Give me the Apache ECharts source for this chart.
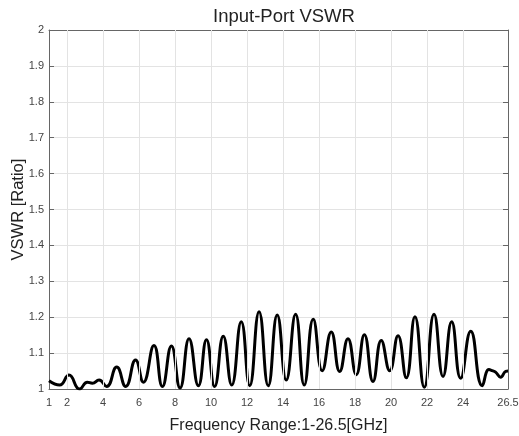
<!DOCTYPE html>
<html><head><meta charset="utf-8">
<script src="https://cdn.jsdelivr.net/npm/echarts@6/dist/echarts.min.js"></script>
<style>html,body{margin:0;padding:0;background:#fff}#c{width:519px;height:436px}</style>
</head><body><div id="c"></div>
<script>
const freqGHz = [1.0,1.59,2.11,2.70,3.13,3.41,3.78,4.2,4.76,5.26,5.81,6.24,6.83,7.30,7.80,8.28,8.78,9.30,9.75,10.2,10.68,11.15,11.68,12.15,12.67,13.18,13.68,14.18,14.70,15.18,15.68,16.18,16.68,17.15,17.61,18.07,18.52,19.0,19.46,19.93,20.39,20.85,21.33,21.85,22.39,22.89,23.37,23.87,24.43,25.07,25.44,25.63,25.81,26.09,26.37,26.5];
const vswr = [1.023,1.011,1.039,1.0,1.019,1.016,1.025,1.007,1.061,1.007,1.081,1.019,1.121,1.007,1.12,1.003,1.14,1.009,1.137,1.007,1.147,1.011,1.187,1.009,1.215,1.009,1.206,1.025,1.208,1.011,1.194,1.051,1.159,1.049,1.14,1.04,1.151,1.021,1.135,1.051,1.148,1.031,1.201,1.005,1.208,1.035,1.187,1.03,1.161,1.009,1.054,1.051,1.047,1.033,1.049,1.05];
const xTicks = [1,2,4,6,8,10,12,14,16,18,20,22,24,26.5];
const xGrid = [2,4,6,8,10,12,14,16,18,20,22,24];
const title = 'Input-Port VSWR';
const xName = 'Frequency Range:1-26.5[GHz]';
const yName = 'VSWR [Ratio]';

const chart = echarts.init(document.getElementById('c'));
const axisColor = '#666';
const gridColor = '#e3e3e3';
const font = 'Liberation Sans, Arial, sans-serif';
chart.setOption({
  animation:false,
  title:{text:title,left:279,top:2,textAlign:'center',textStyle:{fontFamily:font,fontSize:18.5,fontWeight:'normal',color:'#222'}},
  grid:{left:49,right:11,top:30,bottom:47,containLabel:false,outerBoundsMode:'none'},
  xAxis:[{
    type:'value',min:1,max:26.5,
    name:xName,nameLocation:'middle',nameGap:29,nameMoveOverlap:false,
    nameTextStyle:{fontFamily:font,fontSize:16,color:'#222'},
    axisLine:{onZero:false,lineStyle:{color:axisColor}},
    axisTick:{inside:true,length:5,customValues:xTicks,lineStyle:{color:axisColor}},
    axisLabel:{customValues:xTicks,fontFamily:font,fontSize:11,color:'#444',margin:8},
    splitLine:{show:false}
  },{
    type:'value',min:1,max:26.5,position:'top',
    axisLine:{onZero:false,lineStyle:{color:axisColor}},
    axisTick:{inside:true,length:5,customValues:xTicks,lineStyle:{color:axisColor}},
    axisLabel:{show:false},splitLine:{show:false}
  }],
  yAxis:[{
    type:'value',min:1,max:2,interval:0.1,
    name:yName,nameLocation:'middle',nameGap:22,nameMoveOverlap:false,
    nameTextStyle:{fontFamily:font,fontSize:16.5,color:'#222'},
    axisLine:{show:true,onZero:false,lineStyle:{color:axisColor}},
    axisTick:{show:true,inside:true,length:5,lineStyle:{color:axisColor}},
    axisLabel:{fontFamily:font,fontSize:11,color:'#444',margin:5},
    splitLine:{show:true,lineStyle:{color:gridColor,width:1}}
  },{
    type:'value',min:1,max:2,interval:0.1,position:'right',
    axisLine:{show:true,onZero:false,lineStyle:{color:axisColor}},
    axisTick:{show:true,inside:true,length:5,lineStyle:{color:axisColor}},
    axisLabel:{show:false},splitLine:{show:false}
  }],
  series:[{
    type:'line',
    data:freqGHz.map((f,i)=>[f,vswr[i]]),
    smooth:0.5,symbol:'none',
    lineStyle:{color:'#000',width:3},
    markLine:{silent:true,symbol:'none',label:{show:false},
      lineStyle:{color:gridColor,type:'solid',width:1},
      data:xGrid.map(v=>({xAxis:v}))},
    z:3
  }]
});
</script></body></html>
